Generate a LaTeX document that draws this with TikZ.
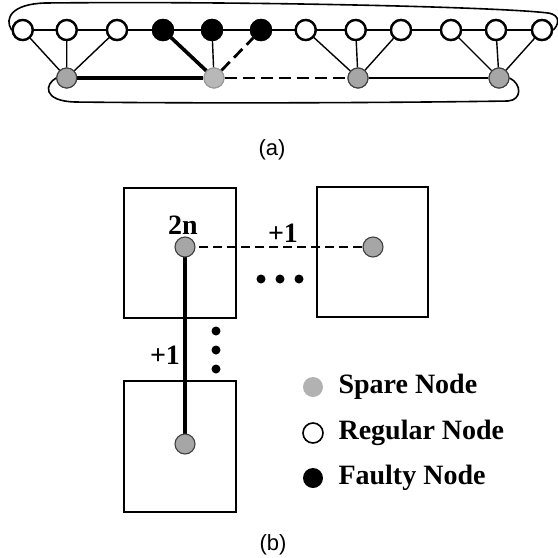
\documentclass[tikz,border=0pt]{standalone}
\usepackage{fontspec}
\setmainfont{Liberation Serif}
\setsansfont{Liberation Sans}
\begin{document}
\begin{tikzpicture}[x=1pt,y=-1pt,
  reg/.style={circle,draw,line width=2.3pt,fill=white,minimum size=20pt,inner sep=0pt},
  spr/.style={circle,draw=black!75,line width=1.1pt,fill=black!35,minimum size=20pt,inner sep=0pt},
  flt/.style={circle,draw,line width=2.3pt,fill=black,minimum size=20pt,inner sep=0pt},
  chainln/.style={line width=2.4pt},
  thinln/.style={line width=1.4pt},
  thickln/.style={line width=3.6pt},
  dsh/.style={line width=2.8pt,dash pattern=on 12pt off 6pt},
  dshb/.style={line width=2.6pt,dash pattern=on 9pt off 5pt},
  loopln/.style={line width=1.6pt},
  boxln/.style={draw,line width=2.4pt},
  lbl/.style={font=\fontsize{28}{30}\selectfont\bfseries},
  captxt/.style={font=\sffamily\fontsize{22}{24}\selectfont},
  dotnd/.style={circle,fill=black,minimum size=9pt,inner sep=0pt}]
\useasboundingbox (0,0) rectangle (558,558);
% ---- (a) ----
\node[reg] (r1) at (22.7,30) {};
\node[reg] (r2) at (66.7,30) {};
\node[reg] (r3) at (117,30) {};
\node[flt] (r4) at (163,30) {};
\node[flt] (r5) at (212,30) {};
\node[flt] (r6) at (261,30) {};
\node[reg] (r7) at (305.7,30) {};
\node[reg] (r8) at (355.7,30) {};
\node[reg] (r9) at (401,30) {};
\node[reg] (r10) at (451,30) {};
\node[reg] (r11) at (496,30) {};
\node[reg] (r12) at (542,30) {};
\node[spr] (s1) at (66.7,78) {};
\node[spr,fill=black!28,draw=black!40] (s2) at (214,78) {};
\node[spr] (s3) at (358,78) {};
\node[spr] (s4) at (499,78) {};
\draw[chainln] (r1) -- (r2) -- (r3) -- (r4) -- (r5) -- (r6) -- (r7) -- (r8) -- (r9) -- (r10) -- (r11) -- (r12);
\draw[thinln] (s1) -- (r1) (s1) -- (r2) (s1) -- (r3);
\draw[thickln] (s2) -- (r4);
\draw[thinln] (s2) -- (r5);
\draw[dsh] (s2) -- (r6);
\draw[thinln] (s3) -- (r7) (s3) -- (r8) (s3) -- (r9);
\draw[thinln] (s4) -- (r10) (s4) -- (r11) (s4) -- (r12);
\draw[thickln] (s1) -- (s2);
\draw[dsh] (s2) -- (s3);
\draw[thinln] (s3) -- (s4);
\draw[loopln] (r1.west) .. controls (4,18) and (12,4) .. (45,3)
  .. controls (250,1) and (500,7) .. (548,13)
  .. controls (562,15) and (558,26) .. (r12.east);
\draw[loopln] (s1.west) .. controls (45,84) and (42,101) .. (75,102)
  .. controls (250,104) and (450,102) .. (508,101)
  .. controls (522,100) and (522,84) .. (s4.east);
% redraw nodes on top
\foreach \n in {r1,r2,r3,r7,r8,r9,r10,r11,r12} {\node[reg] at (\n) {};}
\foreach \n in {r4,r5,r6} {\node[flt] at (\n) {};}
\node[spr] at (s1) {};
\node[spr,fill=black!28,draw=black!40] at (s2) {};
\node[spr] at (s3) {};
\node[spr] at (s4) {};
\node[captxt] (capa) at (272,150) {(a)};
% ---- (b) ----
\draw[boxln] (124,188) rectangle (236,318);
\draw[boxln] (317,187) rectangle (428,317);
\draw[boxln] (124,381) rectangle (236,512);
\draw[line width=3.4pt] (185,247) -- (185,444);
\draw[dshb] (185,247) -- (373,247);
\node[spr] (n1) at (185,247) {};
\node[spr] (n2) at (373,247) {};
\node[spr] (n3) at (185,444) {};
\node[lbl] (l2n) at (183,225) {2n};
\node[lbl] (lh) at (283,233) {+1};
\node[lbl] (lv) at (165,355) {+1};
\node[dotnd] (h1) at (261,279) {};
\node[dotnd] (h2) at (280,279) {};
\node[dotnd] (h3) at (299,279) {};
\node[dotnd] (v1) at (216,331) {};
\node[dotnd] (v2) at (216,350) {};
\node[dotnd] (v3) at (216,369) {};
\node[spr,draw=none,fill=black!30] (k1) at (313,387) {};
\node[reg,line width=1.6pt] (k2) at (313,433) {};
\node[circle,fill=black,minimum size=20pt,inner sep=0pt] (k3) at (313,478) {};
\node[lbl,anchor=west] (t1) at (335,387) {Spare Node};
\node[lbl,anchor=west] (t2) at (335,433) {Regular Node};
\node[lbl,anchor=west] (t3) at (335,478) {Faulty Node};
\node[captxt] (capb) at (273,545) {(b)};
\end{tikzpicture}
\end{document}
